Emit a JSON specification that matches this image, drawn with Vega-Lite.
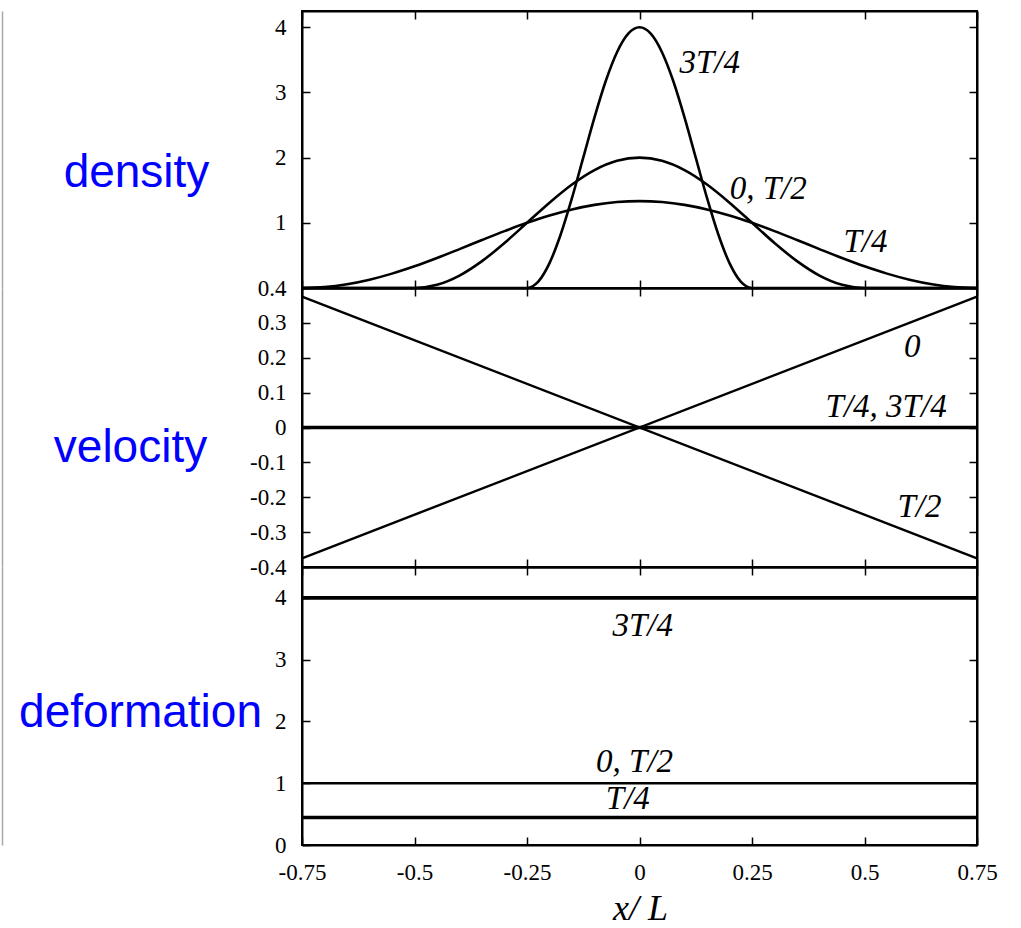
{
  "$schema": "https://vega.github.io/schema/vega-lite/v6.json",
  "padding": {"left": 1, "top": 9, "right": 0, "bottom": 12},
  "background": "white",
  "spacing": 0,
  "bounds": "flush",
  "config": {
    "view": {"stroke": "black", "strokeWidth": 2},
    "concat": {"spacing": 0},
    "axis": {
      "grid": false,
      "domainColor": "black",
      "domainWidth": 2,
      "tickColor": "black",
      "tickWidth": 1.5,
      "tickSize": -8,
      "labelFont": "Liberation Serif",
      "labelFontSize": 23,
      "labelColor": "black",
      "labelFlush": false,
      "labelOverlap": false,
      "labelBound": false
    }
  },
  "datasets": {
    "density": [
      {"x": -0.75, "rho": 0, "state": "T/4"},
      {"x": -0.7, "rho": 0.0146, "state": "T/4"},
      {"x": -0.65, "rho": 0.0576, "state": "T/4"},
      {"x": -0.6, "rho": 0.1273, "state": "T/4"},
      {"x": -0.55, "rho": 0.2206, "state": "T/4"},
      {"x": -0.5, "rho": 0.3333, "state": "T/4"},
      {"x": -0.45, "rho": 0.4607, "state": "T/4"},
      {"x": -0.4, "rho": 0.597, "state": "T/4"},
      {"x": -0.35, "rho": 0.7363, "state": "T/4"},
      {"x": -0.3, "rho": 0.8727, "state": "T/4"},
      {"x": -0.25, "rho": 1.0, "state": "T/4"},
      {"x": -0.2, "rho": 1.1128, "state": "T/4"},
      {"x": -0.15, "rho": 1.206, "state": "T/4"},
      {"x": -0.1, "rho": 1.2757, "state": "T/4"},
      {"x": -0.05, "rho": 1.3188, "state": "T/4"},
      {"x": 0, "rho": 1.3333, "state": "T/4"},
      {"x": 0.05, "rho": 1.3188, "state": "T/4"},
      {"x": 0.1, "rho": 1.2757, "state": "T/4"},
      {"x": 0.15, "rho": 1.206, "state": "T/4"},
      {"x": 0.2, "rho": 1.1128, "state": "T/4"},
      {"x": 0.25, "rho": 1.0, "state": "T/4"},
      {"x": 0.3, "rho": 0.8727, "state": "T/4"},
      {"x": 0.35, "rho": 0.7363, "state": "T/4"},
      {"x": 0.4, "rho": 0.597, "state": "T/4"},
      {"x": 0.45, "rho": 0.4607, "state": "T/4"},
      {"x": 0.5, "rho": 0.3333, "state": "T/4"},
      {"x": 0.55, "rho": 0.2206, "state": "T/4"},
      {"x": 0.6, "rho": 0.1273, "state": "T/4"},
      {"x": 0.65, "rho": 0.0576, "state": "T/4"},
      {"x": 0.7, "rho": 0.0146, "state": "T/4"},
      {"x": 0.75, "rho": 0, "state": "T/4"},

      {"x": -0.75, "rho": 0, "state": "0,T/2"},
      {"x": -0.5, "rho": 0, "state": "0,T/2"},
      {"x": -0.45, "rho": 0.0489, "state": "0,T/2"},
      {"x": -0.4, "rho": 0.191, "state": "0,T/2"},
      {"x": -0.35, "rho": 0.4122, "state": "0,T/2"},
      {"x": -0.3, "rho": 0.691, "state": "0,T/2"},
      {"x": -0.25, "rho": 1.0, "state": "0,T/2"},
      {"x": -0.2, "rho": 1.309, "state": "0,T/2"},
      {"x": -0.15, "rho": 1.5878, "state": "0,T/2"},
      {"x": -0.1, "rho": 1.809, "state": "0,T/2"},
      {"x": -0.05, "rho": 1.9511, "state": "0,T/2"},
      {"x": 0, "rho": 2.0, "state": "0,T/2"},
      {"x": 0.05, "rho": 1.9511, "state": "0,T/2"},
      {"x": 0.1, "rho": 1.809, "state": "0,T/2"},
      {"x": 0.15, "rho": 1.5878, "state": "0,T/2"},
      {"x": 0.2, "rho": 1.309, "state": "0,T/2"},
      {"x": 0.25, "rho": 1.0, "state": "0,T/2"},
      {"x": 0.3, "rho": 0.691, "state": "0,T/2"},
      {"x": 0.35, "rho": 0.4122, "state": "0,T/2"},
      {"x": 0.4, "rho": 0.191, "state": "0,T/2"},
      {"x": 0.45, "rho": 0.0489, "state": "0,T/2"},
      {"x": 0.5, "rho": 0, "state": "0,T/2"},
      {"x": 0.75, "rho": 0, "state": "0,T/2"},

      {"x": -0.75, "rho": 0, "state": "3T/4"},
      {"x": -0.25, "rho": 0, "state": "3T/4"},
      {"x": -0.225, "rho": 0.0979, "state": "3T/4"},
      {"x": -0.2, "rho": 0.382, "state": "3T/4"},
      {"x": -0.175, "rho": 0.8244, "state": "3T/4"},
      {"x": -0.15, "rho": 1.382, "state": "3T/4"},
      {"x": -0.125, "rho": 2.0, "state": "3T/4"},
      {"x": -0.1, "rho": 2.618, "state": "3T/4"},
      {"x": -0.075, "rho": 3.1756, "state": "3T/4"},
      {"x": -0.05, "rho": 3.618, "state": "3T/4"},
      {"x": -0.025, "rho": 3.9021, "state": "3T/4"},
      {"x": 0, "rho": 4.0, "state": "3T/4"},
      {"x": 0.025, "rho": 3.9021, "state": "3T/4"},
      {"x": 0.05, "rho": 3.618, "state": "3T/4"},
      {"x": 0.075, "rho": 3.1756, "state": "3T/4"},
      {"x": 0.1, "rho": 2.618, "state": "3T/4"},
      {"x": 0.125, "rho": 2.0, "state": "3T/4"},
      {"x": 0.15, "rho": 1.382, "state": "3T/4"},
      {"x": 0.175, "rho": 0.8244, "state": "3T/4"},
      {"x": 0.2, "rho": 0.382, "state": "3T/4"},
      {"x": 0.225, "rho": 0.0979, "state": "3T/4"},
      {"x": 0.25, "rho": 0, "state": "3T/4"},
      {"x": 0.75, "rho": 0, "state": "3T/4"}
    ],
    "density_labels": [
      {"x": 0.156, "y": 3.45, "label": "3T/4"},
      {"x": 0.286, "y": 1.52, "label": "0, T/2"},
      {"x": 0.502, "y": 0.7, "label": "T/4"}
    ],
    "velocity": [
      {"x": -0.75, "v": -0.375, "state": "0"},
      {"x": 0.75, "v": 0.375, "state": "0"},
      {"x": -0.75, "v": 0.375, "state": "T/2"},
      {"x": 0.75, "v": -0.375, "state": "T/2"},
      {"x": -0.75, "v": 0, "state": "T/4, 3T/4"},
      {"x": 0.75, "v": 0, "state": "T/4, 3T/4"}
    ],
    "velocity_labels": [
      {"x": 0.606, "y": 0.23, "label": "0"},
      {"x": 0.548, "y": 0.058, "label": "T/4, 3T/4"},
      {"x": 0.622, "y": -0.229, "label": "T/2"}
    ],
    "deformation": [
      {"x": -0.75, "f": 4, "state": "3T/4"},
      {"x": 0.75, "f": 4, "state": "3T/4"},
      {"x": -0.75, "f": 1, "state": "0,T/2"},
      {"x": 0.75, "f": 1, "state": "0,T/2"},
      {"x": -0.75, "f": 0.444, "state": "T/4"},
      {"x": 0.75, "f": 0.444, "state": "T/4"}
    ],
    "deformation_labels": [
      {"x": 0.007, "y": 3.55, "label": "3T/4"},
      {"x": -0.011, "y": 1.35, "label": "0, T/2"},
      {"x": -0.026, "y": 0.742, "label": "T/4"}
    ]
  },
  "vconcat": [
    {
      "width": 675,
      "height": 277,
      "layer": [
        {
          "data": {"name": "density"},
          "mark": {"type": "line", "color": "black", "strokeWidth": 2.6, "interpolate": "monotone"},
          "encoding": {
            "x": {"field": "x", "type": "quantitative", "scale": {"domain": [-0.75, 0.75], "nice": false, "zero": false},
                  "axis": {"orient": "bottom", "values": [-0.75, -0.5, -0.25, 0, 0.25, 0.5, 0.75], "labels": false, "title": null}},
            "y": {"field": "rho", "type": "quantitative", "scale": {"domain": [0, 4.25], "nice": false},
                  "axis": {"orient": "left", "values": [1, 2, 3, 4], "labelPadding": 24,
                           "labelFont": "Liberation Serif", "labelFontSize": 23, "labelColor": "black",
                           "labelExpr": "format(datum.value, '~g')",
                           "title": "density", "titleAngle": 0, "titleAlign": "center", "titleBaseline": "alphabetic",
                           "titleX": -166, "titleY": 175, "titleFont": "Liberation Sans", "titleFontSize": 46,
                           "titleFontWeight": "normal", "titleColor": "#0000ff"}},
            "detail": {"field": "state", "type": "nominal"}
          }
        },
        {
          "data": {"name": "density"},
          "mark": {"type": "line", "strokeOpacity": 0},
          "encoding": {
            "x": {"field": "x", "type": "quantitative", "axis": {"orient": "top", "values": [-0.75, -0.5, -0.25, 0, 0.25, 0.5, 0.75], "labels": false, "title": null}},
            "y": {"field": "rho", "type": "quantitative", "axis": {"orient": "right", "values": [1, 2, 3, 4], "labels": false, "title": null}},
            "detail": {"field": "state", "type": "nominal"}
          }
        },
        {
          "data": {"name": "density_labels"},
          "mark": {"type": "text", "font": "Liberation Serif", "fontStyle": "italic", "fontSize": 33, "align": "center", "baseline": "middle", "color": "black"},
          "encoding": {
            "x": {"field": "x", "type": "quantitative", "axis": null},
            "y": {"field": "y", "type": "quantitative",
                  "axis": {"orient": "left", "offset": 300, "ticks": false, "labels": false, "title": null, "domainColor": "#a8a8a8", "domainWidth": 1.5}},
            "text": {"field": "label"}
          }
        }
      ],
      "resolve": {"axis": {"x": "independent", "y": "independent"}}
    },
    {
      "width": 675,
      "height": 279,
      "layer": [
        {
          "data": {"name": "velocity"},
          "transform": [{"filter": "datum.state !== 'T/4, 3T/4'"}],
          "mark": {"type": "line", "color": "black", "strokeWidth": 2.4},
          "encoding": {
            "x": {"field": "x", "type": "quantitative", "scale": {"domain": [-0.75, 0.75], "nice": false, "zero": false},
                  "axis": {"orient": "bottom", "values": [-0.75, -0.5, -0.25, 0, 0.25, 0.5, 0.75], "labels": false, "title": null}},
            "y": {"field": "v", "type": "quantitative", "scale": {"domain": [-0.4, 0.4], "nice": false, "zero": false},
                  "axis": {"orient": "left", "values": [-0.4, -0.3, -0.2, -0.1, 0, 0.1, 0.2, 0.3, 0.4], "labelPadding": 24,
                           "labelFont": "Liberation Serif", "labelFontSize": 23, "labelColor": "black",
                           "labelExpr": "replace(format(datum.value, '~g'), '\u2212', '-')",
                           "title": "velocity", "titleAngle": 0, "titleAlign": "center", "titleBaseline": "alphabetic",
                           "titleX": -172, "titleY": 173, "titleFont": "Liberation Sans", "titleFontSize": 46,
                           "titleFontWeight": "normal", "titleColor": "#0000ff"}},
            "detail": {"field": "state", "type": "nominal"}
          }
        },
        {
          "data": {"name": "velocity"},
          "transform": [{"filter": "datum.state === 'T/4, 3T/4'"}],
          "mark": {"type": "line", "color": "black", "strokeWidth": 3.6},
          "encoding": {
            "x": {"field": "x", "type": "quantitative", "axis": {"orient": "top", "values": [-0.75, -0.5, -0.25, 0, 0.25, 0.5, 0.75], "labels": false, "title": null}},
            "y": {"field": "v", "type": "quantitative", "axis": {"orient": "right", "values": [-0.4, -0.3, -0.2, -0.1, 0, 0.1, 0.2, 0.3, 0.4], "labels": false, "title": null}},
            "detail": {"field": "state", "type": "nominal"}
          }
        },
        {
          "data": {"name": "velocity_labels"},
          "mark": {"type": "text", "font": "Liberation Serif", "fontStyle": "italic", "fontSize": 33, "align": "center", "baseline": "middle", "color": "black"},
          "encoding": {
            "x": {"field": "x", "type": "quantitative", "axis": null},
            "y": {"field": "y", "type": "quantitative",
                  "axis": {"orient": "left", "offset": 300, "ticks": false, "labels": false, "title": null, "domainColor": "#a8a8a8", "domainWidth": 1.5}},
            "text": {"field": "label"}
          }
        }
      ],
      "resolve": {"axis": {"x": "independent", "y": "independent"}}
    },
    {
      "width": 675,
      "height": 278,
      "layer": [
        {
          "data": {"name": "deformation"},
          "transform": [{"filter": "datum.state === '0,T/2'"}],
          "mark": {"type": "line", "color": "black", "strokeWidth": 2.4},
          "encoding": {
            "x": {"field": "x", "type": "quantitative", "scale": {"domain": [-0.75, 0.75], "nice": false, "zero": false},
                  "axis": {"orient": "bottom", "values": [-0.75, -0.5, -0.25, 0, 0.25, 0.5, 0.75], "labelPadding": 24,
                           "labelFont": "Liberation Serif", "labelFontSize": 23, "labelColor": "black",
                           "labelExpr": "replace(format(datum.value, '~g'), '\u2212', '-')",
                           "title": "x/ L", "titleFont": "Liberation Serif", "titleFontStyle": "italic", "titleFontSize": 36,
                           "titleFontWeight": "normal", "titleColor": "black", "titleAlign": "center", "titleBaseline": "alphabetic",
                           "titleX": 338, "titleY": 74}},
            "y": {"field": "f", "type": "quantitative", "scale": {"domain": [0, 4.5], "nice": false},
                  "axis": {"orient": "left", "values": [0, 1, 2, 3, 4], "labelPadding": 24,
                           "labelFont": "Liberation Serif", "labelFontSize": 23, "labelColor": "black",
                           "labelExpr": "format(datum.value, '~g')",
                           "title": "deformation", "titleAngle": 0, "titleAlign": "center", "titleBaseline": "alphabetic",
                           "titleX": -162, "titleY": 159, "titleFont": "Liberation Sans", "titleFontSize": 46,
                           "titleFontWeight": "normal", "titleColor": "#0000ff"}},
            "detail": {"field": "state", "type": "nominal"}
          }
        },
        {
          "data": {"name": "deformation"},
          "transform": [{"filter": "datum.state !== '0,T/2'"}],
          "mark": {"type": "line", "color": "black", "strokeWidth": 3.6},
          "encoding": {
            "x": {"field": "x", "type": "quantitative", "axis": {"orient": "top", "values": [-0.75, -0.5, -0.25, 0, 0.25, 0.5, 0.75], "labels": false, "title": null}},
            "y": {"field": "f", "type": "quantitative", "axis": {"orient": "right", "values": [0, 1, 2, 3, 4], "labels": false, "title": null}},
            "detail": {"field": "state", "type": "nominal"}
          }
        },
        {
          "data": {"name": "deformation_labels"},
          "mark": {"type": "text", "font": "Liberation Serif", "fontStyle": "italic", "fontSize": 33, "align": "center", "baseline": "middle", "color": "black"},
          "encoding": {
            "x": {"field": "x", "type": "quantitative", "axis": null},
            "y": {"field": "y", "type": "quantitative",
                  "axis": {"orient": "left", "offset": 300, "ticks": false, "labels": false, "title": null, "domainColor": "#a8a8a8", "domainWidth": 1.5}},
            "text": {"field": "label"}
          }
        }
      ],
      "resolve": {"axis": {"x": "independent", "y": "independent"}}
    }
  ]
}
